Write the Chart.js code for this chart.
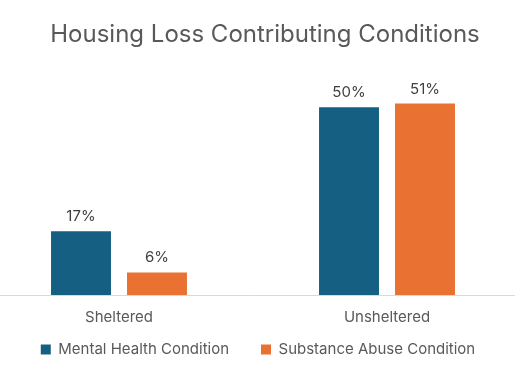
<!DOCTYPE html>
<html>
<head>
<meta charset="utf-8">
<script src="https://cdn.jsdelivr.net/npm/chart.js@4"></script>
<style>
  html, body { margin: 0; padding: 0; background: #fff; overflow: hidden; }
  /* plot area is a little wider than the window, like the original */
  #wrap { position: absolute; left: -15px; top: 0; width: 536px; height: 367px; }
</style>
</head>
<body>
<div id="wrap"><canvas id="chart"></canvas></div>
<script>
const categories = ['Sheltered', 'Unsheltered'];
const mentalHealth = [17, 50];
const substanceAbuse = [6, 51];
const seriesNames = ['Mental Health Condition', 'Substance Abuse Condition'];

const FONT = 'Inter, "Open Sans", sans-serif';

// labels above each bar
const barLabels = {
    id: 'barLabels',
    afterDatasetsDraw(chart) {
        const ctx = chart.ctx;
        ctx.save();
        ctx.font = '15px ' + FONT;
        ctx.fillStyle = '#404040';
        ctx.textAlign = 'center';
        ctx.textBaseline = 'bottom';
        chart.data.datasets.forEach((ds, i) => {
            chart.getDatasetMeta(i).data.forEach((bar, j) => {
                ctx.fillText(ds.data[j] + '%', bar.x, bar.y - 7);
            });
        });
        ctx.restore();
    }
};

// nudge title and legend to where they sit in the original
const recentre = {
    id: 'recentre',
    afterLayout(chart) {
        chart.titleBlock.left += 12;
        chart.titleBlock.right += 12;
        chart.legend.left += 5;
        chart.legend.right += 5;
        chart.legend.top -= 18; // bottom stays, so nothing gets clipped
    }
};

const ctx = document.getElementById('chart').getContext('2d');
new Chart(ctx, {
    type: 'bar',
    data: {
        labels: categories,
        datasets: [{
            label: seriesNames[0],
            data: mentalHealth,
            backgroundColor: '#156082'
        }, {
            label: seriesNames[1],
            data: substanceAbuse,
            backgroundColor: '#E97132'
        }]
    },
    options: {
        responsive: true,
        maintainAspectRatio: false,
        animation: false,
        categoryPercentage: 0.567,
        barPercentage: 0.789,
        layout: { padding: 0 },
        plugins: {
            title: {
                display: true,
                text: 'Housing Loss Contributing Conditions',
                color: '#595959',
                font: { family: FONT, size: 24, weight: 'normal' },
                padding: { top: 20, bottom: 21 }
            },
            legend: {
                position: 'bottom',
                maxHeight: 39,
                labels: {
                    color: '#595959',
                    font: { family: FONT, size: 15 },
                    boxWidth: 10,
                    boxHeight: 10,
                    padding: 32
                }
            },
            tooltip: { enabled: false }
        },
        scales: {
            x: {
                grid: { display: false, drawTicks: false },
                border: { color: '#d9d9d9', width: 1 },
                ticks: {
                    color: '#595959',
                    font: { family: FONT, size: 15 },
                    padding: 13
                },
                afterFit(scale) { scale.height = 33; }
            },
            y: {
                display: false,
                min: 0,
                max: 60
            }
        }
    },
    plugins: [barLabels, recentre]
});
</script>
</body>
</html>
